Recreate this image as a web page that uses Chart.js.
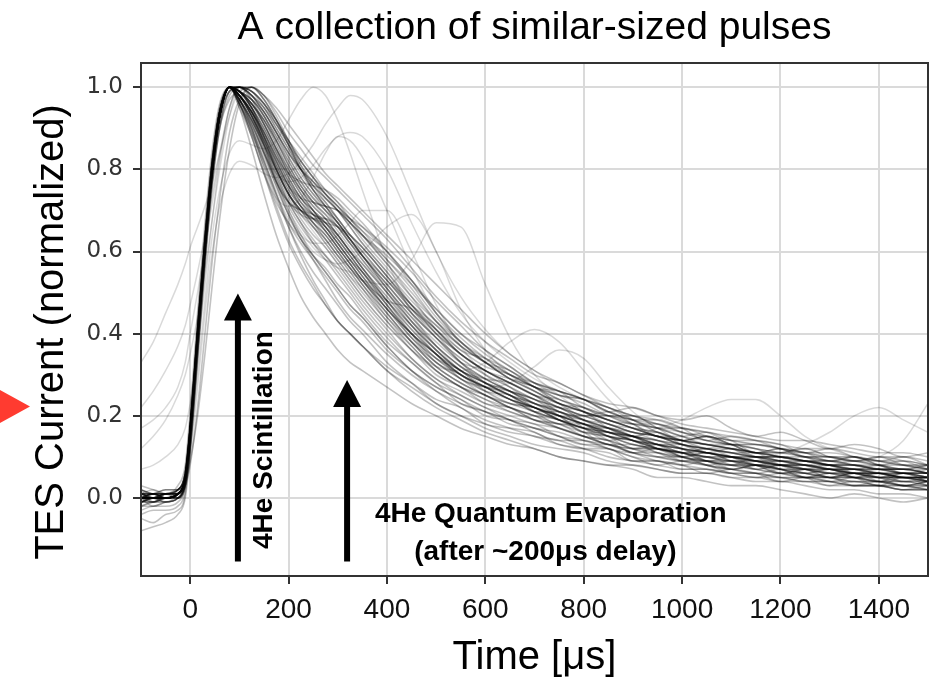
<!DOCTYPE html>
<html>
<head>
<meta charset="utf-8">
<title>A collection of similar-sized pulses</title>
<script src="https://cdn.jsdelivr.net/npm/chart.js@4.4.1/dist/chart.umd.min.js"></script>
<style>
  html, body { margin: 0; padding: 0; background: #ffffff; }
  canvas { display: block; }
</style>
</head>
<body>
<canvas id="pulses" width="933" height="682"></canvas>
<script>
// Sample times of every trace, in microseconds
const TIME_US = [-100, -75, -50, -25, -10, 0, 15, 30, 45, 60, 80, 100,
  125, 150, 175, 200, 225, 250, 275, 300, 325, 350,
  400, 450, 500, 550, 600, 650, 700, 750, 800, 850, 900, 950, 1000,
  1050, 1100, 1150, 1200, 1250, 1300, 1350, 1400, 1450, 1500];

const X_TICKS = [0, 200, 400, 600, 800, 1000, 1200, 1400];
const Y_TICKS = [0.0, 0.2, 0.4, 0.6, 0.8, 1.0];

// Normalized TES current of each pulse, one value per entry of TIME_US
// -- the bulk of the pulses --
const a01 = [0.00,0.01,0.00,0.01,0.05,0.16,0.39,0.61,0.80,0.93,1.00,0.99,
  0.96,0.92,0.86,0.80,0.75,0.71,0.68,0.64,0.60,0.56,
  0.49,0.42,0.36,0.31,0.28,0.26,0.22,0.20,0.18,0.15,0.14,0.13,0.11,0.10,0.09,0.09,0.08,0.07,0.07,0.06,0.06,0.05,0.05];
const a02 = [-0.01,0.00,0.01,0.00,0.04,0.15,0.38,0.60,0.80,0.93,1.00,0.98,
  0.94,0.88,0.82,0.76,0.71,0.67,0.63,0.59,0.55,0.51,
  0.43,0.37,0.31,0.27,0.24,0.21,0.19,0.18,0.15,0.13,0.12,0.12,0.10,0.08,0.07,0.08,0.07,0.05,0.05,0.06,0.04,0.03,0.04];
const a03 = [0.02,0.01,0.01,0.02,0.06,0.17,0.40,0.62,0.81,0.94,1.00,1.00,
  0.98,0.95,0.90,0.85,0.80,0.77,0.74,0.71,0.68,0.64,
  0.57,0.50,0.43,0.37,0.33,0.29,0.26,0.23,0.21,0.19,0.17,0.16,0.14,0.13,0.12,0.10,0.10,0.09,0.08,0.08,0.07,0.07,0.06];
const a04 = [0.00,-0.01,0.00,0.01,0.05,0.17,0.41,0.63,0.82,0.94,1.00,0.97,
  0.91,0.84,0.77,0.70,0.64,0.59,0.55,0.51,0.47,0.44,
  0.37,0.31,0.26,0.22,0.19,0.17,0.15,0.14,0.12,0.11,0.09,0.09,0.07,0.07,0.06,0.05,0.05,0.04,0.04,0.03,0.03,0.03,0.02];
const a05 = [0.01,0.00,-0.01,0.01,0.05,0.16,0.39,0.61,0.80,0.93,1.00,0.99,
  0.95,0.90,0.84,0.78,0.73,0.70,0.67,0.63,0.59,0.55,
  0.47,0.40,0.35,0.30,0.27,0.26,0.24,0.20,0.17,0.17,0.15,0.12,0.10,0.11,0.10,0.08,0.06,0.07,0.08,0.06,0.05,0.06,0.04];
const a06 = [-0.02,-0.01,-0.01,0.00,0.03,0.12,0.33,0.56,0.76,0.90,0.99,1.00,
  0.99,0.96,0.91,0.86,0.81,0.77,0.73,0.70,0.66,0.62,
  0.55,0.47,0.41,0.35,0.31,0.28,0.25,0.22,0.20,0.18,0.16,0.15,0.13,0.12,0.11,0.10,0.10,0.09,0.08,0.07,0.07,0.07,0.06];
const a07 = [0.01,0.02,0.01,0.03,0.08,0.21,0.45,0.67,0.85,0.96,1.00,0.97,
  0.92,0.86,0.80,0.74,0.70,0.67,0.64,0.60,0.56,0.52,
  0.44,0.37,0.31,0.27,0.24,0.22,0.20,0.17,0.15,0.14,0.12,0.10,0.09,0.09,0.08,0.07,0.06,0.05,0.05,0.05,0.04,0.04,0.03];
const a08 = [0.00,0.00,0.01,0.01,0.05,0.16,0.39,0.61,0.80,0.93,1.00,0.98,
  0.93,0.86,0.78,0.72,0.69,0.68,0.68,0.66,0.62,0.58,
  0.50,0.42,0.35,0.30,0.27,0.24,0.21,0.19,0.18,0.16,0.14,0.12,0.11,0.11,0.09,0.08,0.08,0.07,0.06,0.06,0.06,0.05,0.04];
const a09 = [-0.01,0.00,0.00,0.00,0.04,0.15,0.38,0.60,0.79,0.93,1.00,0.99,
  0.95,0.88,0.80,0.74,0.70,0.68,0.67,0.66,0.64,0.61,
  0.54,0.46,0.39,0.33,0.29,0.26,0.23,0.21,0.19,0.16,0.15,0.14,0.12,0.10,0.10,0.09,0.08,0.08,0.07,0.06,0.06,0.05,0.05];
const a10 = [0.03,0.02,0.01,0.02,0.06,0.17,0.40,0.62,0.81,0.94,1.00,0.96,
  0.89,0.81,0.73,0.66,0.60,0.55,0.51,0.47,0.43,0.40,
  0.33,0.28,0.23,0.20,0.18,0.16,0.15,0.13,0.12,0.10,0.09,0.08,0.07,0.07,0.06,0.06,0.05,0.04,0.04,0.04,0.03,0.03,0.03];
const a11 = [0.00,0.01,0.01,0.01,0.05,0.16,0.39,0.61,0.80,0.93,1.00,1.00,
  0.98,0.94,0.89,0.84,0.80,0.76,0.73,0.70,0.67,0.64,
  0.58,0.52,0.46,0.40,0.35,0.31,0.28,0.26,0.24,0.21,0.19,0.18,0.16,0.15,0.14,0.13,0.12,0.11,0.10,0.10,0.09,0.08,0.08];
const a12 = [0.00,-0.02,-0.01,0.00,0.04,0.15,0.39,0.61,0.80,0.93,1.00,0.99,
  0.96,0.91,0.85,0.79,0.74,0.70,0.66,0.62,0.58,0.54,
  0.46,0.40,0.35,0.29,0.27,0.25,0.21,0.21,0.17,0.14,0.15,0.13,0.10,0.09,0.10,0.09,0.07,0.06,0.07,0.05,0.06,0.05,0.04];
const a13 = [0.01,0.00,0.00,0.02,0.06,0.17,0.40,0.62,0.81,0.94,1.00,0.99,
  0.97,0.93,0.88,0.82,0.77,0.73,0.70,0.67,0.63,0.59,
  0.52,0.45,0.39,0.34,0.30,0.27,0.24,0.22,0.19,0.17,0.16,0.14,0.13,0.11,0.10,0.10,0.09,0.08,0.07,0.07,0.06,0.06,0.05];
const a14 = [-0.01,-0.01,0.00,0.01,0.04,0.14,0.36,0.58,0.77,0.90,0.97,0.99,
  1.00,0.97,0.92,0.86,0.80,0.75,0.71,0.67,0.63,0.59,
  0.51,0.44,0.37,0.32,0.28,0.25,0.23,0.21,0.18,0.17,0.15,0.13,0.12,0.11,0.10,0.09,0.08,0.08,0.07,0.06,0.05,0.05,0.05];
const a15 = [0.02,0.01,0.02,0.02,0.06,0.18,0.41,0.63,0.82,0.94,1.00,0.97,
  0.92,0.85,0.78,0.72,0.67,0.63,0.59,0.56,0.52,0.48,
  0.41,0.34,0.29,0.25,0.22,0.19,0.17,0.15,0.13,0.12,0.10,0.09,0.08,0.07,0.06,0.06,0.05,0.05,0.04,0.03,0.03,0.02,0.02];
const a16 = [0.00,0.00,-0.01,0.00,0.04,0.15,0.38,0.60,0.80,0.93,1.00,0.99,
  0.95,0.89,0.82,0.76,0.72,0.69,0.68,0.66,0.63,0.59,
  0.51,0.43,0.36,0.31,0.28,0.25,0.22,0.20,0.18,0.16,0.15,0.13,0.12,0.11,0.10,0.09,0.08,0.08,0.07,0.06,0.06,0.05,0.05];
const a17 = [-0.03,-0.02,-0.02,-0.01,0.03,0.14,0.37,0.60,0.79,0.92,1.00,1.00,
  0.98,0.95,0.91,0.87,0.83,0.79,0.75,0.72,0.68,0.65,
  0.60,0.53,0.45,0.38,0.34,0.30,0.28,0.26,0.22,0.20,0.20,0.17,0.14,0.15,0.13,0.11,0.12,0.10,0.09,0.10,0.08,0.07,0.08];
const a18 = [0.01,0.01,0.00,0.01,0.05,0.16,0.39,0.61,0.80,0.93,1.00,0.98,
  0.94,0.89,0.83,0.77,0.72,0.69,0.66,0.62,0.58,0.55,
  0.48,0.41,0.35,0.30,0.27,0.24,0.22,0.19,0.17,0.16,0.14,0.12,0.11,0.10,0.09,0.08,0.07,0.07,0.06,0.05,0.05,0.05,0.04];
const a19 = [0.00,0.00,0.00,0.01,0.05,0.16,0.40,0.62,0.81,0.93,1.00,1.00,
  0.99,0.96,0.92,0.87,0.82,0.78,0.74,0.71,0.67,0.63,
  0.56,0.49,0.43,0.38,0.33,0.29,0.26,0.23,0.21,0.19,0.17,0.15,0.14,0.13,0.12,0.11,0.10,0.09,0.09,0.08,0.07,0.07,0.06];
const a20 = [-0.02,-0.01,0.00,0.00,0.04,0.15,0.38,0.61,0.80,0.93,1.00,0.98,
  0.93,0.87,0.80,0.74,0.69,0.66,0.62,0.58,0.54,0.50,
  0.43,0.36,0.31,0.27,0.25,0.22,0.20,0.19,0.16,0.13,0.13,0.11,0.09,0.10,0.08,0.07,0.08,0.06,0.05,0.06,0.05,0.04,0.05];

// -- more of the bulk, with noisier tails --
const e01 = [0.00,0.00,0.00,0.01,0.05,0.16,0.39,0.61,0.80,0.93,1.00,0.99,
  0.97,0.93,0.87,0.81,0.76,0.72,0.69,0.66,0.62,0.58,
  0.51,0.44,0.38,0.33,0.31,0.27,0.23,0.22,0.21,0.17,0.15,0.16,0.13,0.11,0.12,0.10,0.08,0.09,0.08,0.06,0.07,0.06,0.05];
const e02 = [0.00,0.01,0.02,0.02,0.07,0.19,0.43,0.65,0.83,0.95,1.00,0.98,
  0.93,0.87,0.81,0.75,0.71,0.69,0.67,0.64,0.60,0.56,
  0.48,0.40,0.33,0.30,0.26,0.25,0.21,0.18,0.18,0.15,0.12,0.13,0.12,0.09,0.08,0.10,0.08,0.06,0.07,0.05,0.04,0.06,0.04];
const e03 = [-0.01,-0.01,0.00,0.00,0.03,0.13,0.35,0.58,0.78,0.91,0.99,1.00,
  0.98,0.94,0.89,0.83,0.78,0.74,0.70,0.66,0.62,0.59,
  0.53,0.46,0.41,0.35,0.31,0.29,0.27,0.23,0.20,0.20,0.18,0.15,0.14,0.15,0.13,0.11,0.11,0.10,0.08,0.09,0.08,0.06,0.07];
const e04 = [0.02,-0.01,0.01,0.01,0.05,0.16,0.39,0.61,0.80,0.93,1.00,0.98,
  0.94,0.87,0.80,0.74,0.70,0.68,0.66,0.63,0.59,0.55,
  0.47,0.39,0.33,0.29,0.25,0.23,0.22,0.19,0.16,0.15,0.14,0.11,0.10,0.11,0.09,0.07,0.08,0.07,0.05,0.06,0.05,0.03,0.04];
const e05 = [0.00,0.00,0.01,0.01,0.05,0.16,0.39,0.61,0.80,0.93,1.00,1.00,
  0.99,0.95,0.90,0.85,0.80,0.76,0.73,0.70,0.67,0.64,
  0.59,0.53,0.46,0.40,0.36,0.32,0.28,0.25,0.24,0.22,0.19,0.17,0.17,0.15,0.13,0.13,0.12,0.10,0.10,0.09,0.10,0.08,0.07];
const e06 = [0.00,0.01,0.00,0.01,0.05,0.16,0.39,0.61,0.80,0.93,1.00,0.98,
  0.93,0.85,0.77,0.72,0.70,0.69,0.67,0.64,0.60,0.56,
  0.48,0.41,0.35,0.31,0.28,0.26,0.24,0.21,0.19,0.18,0.16,0.15,0.13,0.12,0.11,0.11,0.10,0.09,0.08,0.08,0.07,0.07,0.06];
const e07 = [-0.01,0.00,0.00,0.01,0.05,0.16,0.40,0.62,0.81,0.94,1.00,0.97,
  0.92,0.86,0.79,0.73,0.68,0.64,0.61,0.57,0.53,0.49,
  0.42,0.36,0.30,0.27,0.23,0.22,0.19,0.18,0.17,0.14,0.11,0.12,0.11,0.09,0.07,0.08,0.07,0.05,0.06,0.05,0.03,0.05,0.04];
const e08 = [0.01,0.00,0.01,0.02,0.06,0.17,0.40,0.62,0.81,0.94,1.00,0.99,
  0.96,0.91,0.85,0.79,0.75,0.72,0.71,0.70,0.67,0.64,
  0.57,0.49,0.41,0.35,0.31,0.28,0.25,0.24,0.21,0.18,0.17,0.16,0.14,0.12,0.12,0.11,0.09,0.09,0.08,0.07,0.08,0.06,0.06];
const e09 = [0.00,0.00,0.00,0.01,0.05,0.16,0.39,0.61,0.80,0.93,1.00,0.99,
  0.95,0.90,0.84,0.78,0.73,0.70,0.67,0.63,0.59,0.55,
  0.48,0.42,0.36,0.31,0.29,0.28,0.25,0.21,0.20,0.21,0.18,0.15,0.15,0.16,0.14,0.11,0.11,0.12,0.10,0.09,0.10,0.09,0.07];
const e10 = [0.01,0.01,0.00,0.01,0.05,0.17,0.41,0.63,0.82,0.94,1.00,0.97,
  0.90,0.83,0.76,0.69,0.63,0.59,0.56,0.52,0.49,0.45,
  0.38,0.33,0.28,0.23,0.21,0.19,0.16,0.14,0.14,0.12,0.10,0.08,0.09,0.08,0.06,0.05,0.06,0.05,0.03,0.04,0.03,0.02,0.03];
const e11 = [-0.01,0.00,0.00,0.00,0.03,0.12,0.34,0.57,0.77,0.90,0.98,1.00,
  0.99,0.96,0.92,0.87,0.82,0.78,0.74,0.70,0.66,0.62,
  0.55,0.48,0.42,0.37,0.33,0.29,0.27,0.24,0.22,0.19,0.18,0.17,0.15,0.13,0.13,0.12,0.10,0.10,0.09,0.08,0.08,0.07,0.07];
const e12 = [0.00,0.00,0.00,0.01,0.05,0.16,0.39,0.61,0.80,0.93,1.00,0.99,
  0.96,0.92,0.87,0.81,0.76,0.72,0.69,0.65,0.61,0.57,
  0.50,0.43,0.37,0.32,0.29,0.26,0.24,0.22,0.19,0.17,0.15,0.14,0.12,0.11,0.10,0.09,0.09,0.08,0.07,0.07,0.06,0.05,0.05];
const e13 = [0.00,-0.01,-0.01,0.00,0.04,0.16,0.40,0.63,0.82,0.94,1.00,0.96,
  0.89,0.82,0.74,0.67,0.62,0.58,0.54,0.50,0.46,0.43,
  0.36,0.31,0.27,0.24,0.20,0.19,0.18,0.15,0.13,0.13,0.11,0.09,0.08,0.09,0.07,0.06,0.07,0.05,0.04,0.05,0.04,0.03,0.04];
const e14 = [0.01,0.01,0.01,0.01,0.05,0.16,0.39,0.61,0.80,0.93,1.00,0.99,
  0.95,0.89,0.83,0.79,0.77,0.76,0.75,0.73,0.70,0.67,
  0.60,0.52,0.44,0.38,0.33,0.30,0.27,0.24,0.22,0.20,0.18,0.17,0.15,0.14,0.13,0.12,0.11,0.10,0.09,0.09,0.08,0.08,0.07];
const e15 = [-0.02,-0.02,-0.01,0.00,0.04,0.15,0.38,0.60,0.80,0.93,1.00,0.98,
  0.94,0.89,0.83,0.77,0.73,0.69,0.65,0.61,0.57,0.53,
  0.46,0.39,0.34,0.31,0.26,0.23,0.22,0.20,0.16,0.16,0.15,0.12,0.11,0.12,0.10,0.08,0.09,0.07,0.06,0.07,0.05,0.06,0.05];
const e16 = [0.01,0.01,0.00,0.01,0.05,0.16,0.39,0.61,0.80,0.93,1.00,0.99,
  0.97,0.94,0.89,0.84,0.79,0.75,0.72,0.68,0.64,0.61,
  0.54,0.47,0.40,0.35,0.31,0.28,0.25,0.23,0.21,0.19,0.17,0.15,0.14,0.13,0.12,0.11,0.10,0.09,0.09,0.08,0.07,0.07,0.06];
const e17 = [0.00,0.00,0.01,0.01,0.05,0.17,0.40,0.62,0.81,0.94,1.00,0.97,
  0.91,0.84,0.77,0.71,0.66,0.62,0.59,0.55,0.51,0.47,
  0.40,0.34,0.29,0.26,0.23,0.21,0.19,0.17,0.15,0.14,0.12,0.11,0.10,0.09,0.08,0.08,0.07,0.06,0.05,0.05,0.05,0.04,0.04];
const e18 = [0.00,0.00,0.00,0.01,0.05,0.16,0.39,0.61,0.80,0.93,1.00,0.98,
  0.93,0.87,0.80,0.74,0.70,0.66,0.63,0.59,0.56,0.53,
  0.48,0.46,0.40,0.33,0.28,0.25,0.22,0.20,0.19,0.17,0.14,0.13,0.13,0.11,0.10,0.10,0.09,0.08,0.07,0.07,0.06,0.05,0.05];
const e19 = [-0.04,-0.03,-0.03,-0.02,0.02,0.13,0.37,0.60,0.79,0.93,1.00,0.98,
  0.94,0.88,0.81,0.75,0.71,0.68,0.65,0.61,0.57,0.53,
  0.46,0.40,0.34,0.30,0.27,0.24,0.21,0.19,0.17,0.15,0.13,0.12,0.11,0.09,0.08,0.08,0.07,0.06,0.05,0.04,0.04,0.03,0.03];
const e20 = [0.00,0.01,0.01,0.02,0.06,0.17,0.40,0.62,0.81,0.94,1.00,0.99,
  0.96,0.92,0.87,0.82,0.77,0.73,0.70,0.67,0.63,0.60,
  0.53,0.47,0.42,0.36,0.34,0.31,0.27,0.26,0.24,0.21,0.19,0.19,0.17,0.14,0.15,0.14,0.12,0.11,0.12,0.10,0.09,0.10,0.08];

// -- quicker and slower decays that widen the band --
const f01 = [0.00,0.00,0.01,0.01,0.05,0.17,0.41,0.63,0.82,0.94,1.00,0.96,
  0.90,0.82,0.74,0.66,0.59,0.53,0.48,0.43,0.40,0.37,
  0.32,0.28,0.24,0.22,0.18,0.17,0.16,0.13,0.12,0.12,0.09,0.09,0.08,0.06,0.07,0.06,0.04,0.05,0.05,0.03,0.04,0.03,0.02];
const f02 = [-0.01,0.00,0.00,0.01,0.05,0.16,0.40,0.62,0.81,0.94,1.00,0.97,
  0.92,0.84,0.76,0.69,0.63,0.58,0.53,0.48,0.44,0.41,
  0.35,0.30,0.26,0.23,0.21,0.18,0.17,0.15,0.14,0.12,0.11,0.11,0.09,0.08,0.09,0.07,0.06,0.07,0.05,0.05,0.04,0.05,0.03];
const f03 = [0.01,0.01,0.00,0.01,0.05,0.16,0.39,0.61,0.80,0.93,1.00,0.98,
  0.93,0.86,0.79,0.72,0.67,0.62,0.58,0.54,0.50,0.46,
  0.39,0.33,0.28,0.25,0.22,0.20,0.18,0.17,0.15,0.13,0.12,0.12,0.10,0.09,0.09,0.08,0.07,0.07,0.06,0.05,0.06,0.04,0.04];
const f04 = [0.00,0.01,0.01,0.02,0.06,0.18,0.42,0.64,0.83,0.95,1.00,0.96,
  0.90,0.80,0.72,0.67,0.63,0.59,0.55,0.51,0.47,0.44,
  0.37,0.31,0.27,0.24,0.21,0.19,0.17,0.16,0.14,0.13,0.11,0.10,0.10,0.08,0.07,0.08,0.06,0.05,0.06,0.05,0.04,0.04,0.03];
const f05 = [0.00,0.00,0.00,0.01,0.05,0.16,0.39,0.61,0.80,0.93,1.00,1.00,
  0.99,0.96,0.91,0.86,0.82,0.78,0.75,0.72,0.69,0.66,
  0.60,0.53,0.45,0.39,0.34,0.30,0.27,0.25,0.23,0.20,0.18,0.18,0.16,0.14,0.13,0.13,0.12,0.10,0.10,0.09,0.08,0.09,0.08];
const f06 = [-0.01,-0.01,0.00,0.00,0.03,0.13,0.35,0.58,0.78,0.91,0.99,1.00,
  1.00,0.98,0.94,0.89,0.85,0.81,0.78,0.75,0.72,0.69,
  0.63,0.56,0.49,0.43,0.38,0.34,0.30,0.28,0.25,0.23,0.22,0.20,0.18,0.17,0.16,0.15,0.14,0.14,0.13,0.12,0.11,0.11,0.10];
const f07 = [0.01,0.00,0.00,0.01,0.05,0.16,0.39,0.61,0.80,0.93,1.00,0.99,
  0.95,0.88,0.81,0.76,0.73,0.72,0.71,0.70,0.68,0.66,
  0.61,0.55,0.48,0.42,0.36,0.32,0.28,0.26,0.24,0.22,0.20,0.18,0.17,0.16,0.14,0.14,0.13,0.11,0.11,0.10,0.09,0.09,0.08];
const f08 = [0.00,0.00,0.00,0.01,0.05,0.17,0.41,0.63,0.82,0.94,1.00,0.95,
  0.88,0.79,0.70,0.62,0.56,0.51,0.47,0.43,0.40,0.37,
  0.31,0.27,0.23,0.20,0.17,0.15,0.13,0.12,0.11,0.09,0.08,0.07,0.06,0.06,0.05,0.04,0.04,0.03,0.02,0.02,0.01,0.01,0.00];
const f09 = [0.02,0.01,0.01,0.02,0.06,0.17,0.40,0.62,0.81,0.94,1.00,1.00,
  0.98,0.94,0.89,0.84,0.80,0.77,0.74,0.71,0.68,0.65,
  0.58,0.51,0.43,0.37,0.33,0.31,0.27,0.23,0.22,0.20,0.19,0.16,0.14,0.15,0.13,0.11,0.12,0.11,0.09,0.10,0.08,0.07,0.08];
const f10 = [0.00,0.00,0.00,0.01,0.05,0.16,0.39,0.61,0.80,0.93,1.00,0.98,
  0.94,0.86,0.77,0.72,0.70,0.68,0.65,0.61,0.57,0.53,
  0.45,0.38,0.32,0.28,0.25,0.22,0.20,0.18,0.16,0.15,0.13,0.12,0.11,0.10,0.09,0.09,0.08,0.07,0.06,0.06,0.05,0.05,0.04];

// -- pulses with a second, delayed bump --
const b01 = [0.00,0.01,0.00,0.01,0.04,0.12,0.30,0.48,0.64,0.75,0.84,0.87,
  0.86,0.85,0.87,0.92,0.97,1.00,0.98,0.92,0.84,0.75,
  0.58,0.45,0.37,0.31,0.27,0.24,0.22,0.20,0.18,0.16,0.15,0.13,0.12,0.11,0.10,0.09,0.09,0.08,0.07,0.07,0.06,0.06,0.05];
const b02 = [-0.01,0.00,0.01,0.01,0.03,0.10,0.27,0.45,0.60,0.71,0.79,0.82,
  0.81,0.79,0.78,0.79,0.82,0.86,0.91,0.95,0.98,0.97,
  0.88,0.74,0.60,0.49,0.41,0.35,0.31,0.27,0.24,0.22,0.20,0.18,0.16,0.15,0.14,0.13,0.12,0.11,0.10,0.10,0.09,0.08,0.08];
const b03 = [0.01,0.01,0.02,0.02,0.06,0.17,0.40,0.62,0.81,0.94,1.00,0.97,
  0.91,0.84,0.79,0.77,0.78,0.81,0.85,0.88,0.89,0.88,
  0.80,0.67,0.55,0.45,0.38,0.33,0.29,0.26,0.24,0.21,0.19,0.17,0.16,0.14,0.13,0.12,0.11,0.11,0.10,0.09,0.09,0.08,0.07];
const b04 = [0.00,0.00,0.00,0.01,0.05,0.16,0.39,0.61,0.80,0.93,1.00,0.96,
  0.88,0.79,0.73,0.71,0.73,0.78,0.84,0.88,0.87,0.83,
  0.70,0.56,0.45,0.38,0.33,0.29,0.26,0.23,0.21,0.19,0.17,0.15,0.14,0.13,0.12,0.11,0.10,0.09,0.09,0.08,0.07,0.07,0.06];
const b05 = [0.00,0.01,0.00,0.01,0.05,0.16,0.39,0.61,0.80,0.93,1.00,0.97,
  0.91,0.84,0.77,0.70,0.65,0.61,0.58,0.56,0.55,0.53,
  0.52,0.58,0.67,0.66,0.52,0.39,0.30,0.25,0.21,0.19,0.17,0.15,0.14,0.12,0.11,0.10,0.10,0.09,0.08,0.08,0.07,0.06,0.06];
const b06 = [0.00,0.00,0.00,0.01,0.05,0.16,0.39,0.61,0.80,0.93,1.00,0.98,
  0.93,0.87,0.80,0.74,0.69,0.65,0.61,0.57,0.53,0.49,
  0.42,0.36,0.32,0.31,0.33,0.38,0.41,0.38,0.31,0.24,0.19,0.16,0.14,0.13,0.12,0.10,0.09,0.09,0.08,0.07,0.07,0.06,0.06];
const b07 = [0.00,0.00,0.01,0.01,0.05,0.16,0.39,0.61,0.80,0.93,1.00,0.96,
  0.89,0.81,0.74,0.68,0.64,0.62,0.62,0.64,0.67,0.70,
  0.70,0.60,0.47,0.37,0.30,0.26,0.23,0.20,0.18,0.17,0.15,0.13,0.12,0.11,0.10,0.09,0.09,0.08,0.07,0.07,0.06,0.06,0.05];
const b08 = [0.01,0.00,0.00,0.01,0.05,0.16,0.39,0.61,0.80,0.93,1.00,0.97,
  0.90,0.82,0.75,0.69,0.64,0.60,0.58,0.57,0.58,0.60,
  0.66,0.69,0.60,0.46,0.36,0.30,0.26,0.23,0.21,0.19,0.17,0.15,0.14,0.13,0.12,0.11,0.10,0.09,0.08,0.08,0.07,0.06,0.06];
const b09 = [0.00,0.00,0.00,0.01,0.05,0.16,0.39,0.61,0.80,0.93,1.00,0.98,
  0.94,0.88,0.82,0.76,0.71,0.67,0.63,0.59,0.55,0.51,
  0.44,0.38,0.33,0.29,0.27,0.28,0.32,0.36,0.34,0.27,0.21,0.17,0.15,0.13,0.12,0.11,0.10,0.09,0.08,0.08,0.07,0.06,0.06];
const b10 = [-0.01,0.00,0.01,0.00,0.04,0.15,0.38,0.60,0.79,0.93,1.00,0.98,
  0.94,0.89,0.83,0.77,0.72,0.68,0.64,0.60,0.56,0.52,
  0.45,0.38,0.32,0.28,0.25,0.23,0.21,0.19,0.17,0.16,0.15,0.17,0.19,0.22,0.24,0.24,0.20,0.15,0.12,0.10,0.09,0.08,0.07];
const b11 = [0.02,0.01,0.00,0.01,0.05,0.16,0.39,0.61,0.80,0.93,1.00,0.97,
  0.92,0.86,0.80,0.74,0.70,0.66,0.62,0.58,0.54,0.51,
  0.44,0.38,0.33,0.29,0.26,0.23,0.21,0.19,0.17,0.15,0.13,0.12,0.11,0.12,0.13,0.12,0.11,0.13,0.16,0.20,0.22,0.19,0.16];
const b12 = [0.00,0.00,-0.01,0.00,0.04,0.15,0.38,0.60,0.80,0.93,1.00,0.98,
  0.95,0.90,0.84,0.78,0.73,0.69,0.65,0.61,0.57,0.53,
  0.46,0.39,0.34,0.29,0.26,0.24,0.22,0.19,0.17,0.15,0.14,0.12,0.10,0.09,0.08,0.09,0.11,0.12,0.10,0.09,0.10,0.14,0.23];

// -- early, slow-rising and offset-baseline pulses --
const c01 = [0.33,0.38,0.45,0.52,0.57,0.61,0.66,0.71,0.77,0.84,0.93,0.99,
  1.00,0.97,0.92,0.86,0.80,0.75,0.71,0.67,0.63,0.59,
  0.52,0.45,0.39,0.34,0.30,0.27,0.24,0.22,0.20,0.18,0.16,0.15,0.13,0.12,0.11,0.10,0.09,0.09,0.08,0.07,0.07,0.06,0.06];
const c02 = [0.12,0.15,0.19,0.25,0.30,0.35,0.44,0.55,0.68,0.80,0.93,1.00,
  0.98,0.93,0.87,0.81,0.76,0.72,0.68,0.64,0.60,0.56,
  0.49,0.42,0.36,0.31,0.28,0.25,0.22,0.20,0.18,0.16,0.14,0.13,0.12,0.11,0.10,0.09,0.08,0.08,0.07,0.06,0.06,0.05,0.05];
const c03 = [0.22,0.26,0.31,0.37,0.42,0.47,0.55,0.64,0.74,0.84,0.95,1.00,
  0.97,0.92,0.86,0.80,0.75,0.70,0.66,0.62,0.58,0.54,
  0.46,0.40,0.34,0.30,0.27,0.24,0.22,0.20,0.18,0.16,0.15,0.13,0.12,0.11,0.10,0.09,0.08,0.07,0.07,0.06,0.06,0.05,0.05];
const c04 = [0.07,0.08,0.10,0.13,0.17,0.23,0.36,0.52,0.68,0.82,0.95,1.00,
  0.97,0.91,0.85,0.79,0.74,0.70,0.66,0.62,0.58,0.54,
  0.47,0.40,0.35,0.30,0.27,0.24,0.22,0.19,0.17,0.16,0.14,0.13,0.11,0.10,0.10,0.09,0.08,0.07,0.07,0.06,0.05,0.05,0.05];
const c05 = [0.00,0.00,0.01,0.02,0.04,0.09,0.20,0.35,0.52,0.68,0.85,0.96,
  1.00,0.97,0.92,0.86,0.80,0.75,0.71,0.67,0.63,0.59,
  0.52,0.45,0.39,0.33,0.29,0.26,0.23,0.21,0.19,0.17,0.15,0.14,0.13,0.12,0.11,0.10,0.09,0.08,0.08,0.07,0.06,0.06,0.05];
const c06 = [-0.08,-0.07,-0.06,-0.04,0.00,0.11,0.35,0.59,0.79,0.92,1.00,0.98,
  0.94,0.88,0.82,0.76,0.71,0.67,0.64,0.60,0.56,0.52,
  0.45,0.38,0.32,0.28,0.25,0.22,0.19,0.17,0.15,0.13,0.11,0.10,0.09,0.08,0.07,0.06,0.05,0.05,0.04,0.03,0.03,0.02,0.02];
const c07 = [-0.05,-0.06,-0.04,-0.03,0.01,0.13,0.37,0.60,0.79,0.93,1.00,0.99,
  0.96,0.91,0.85,0.80,0.75,0.71,0.68,0.64,0.60,0.57,
  0.50,0.43,0.37,0.32,0.28,0.25,0.23,0.20,0.18,0.15,0.14,0.12,0.11,0.09,0.09,0.08,0.06,0.06,0.05,0.04,0.04,0.03,0.02];
const c08 = [0.17,0.19,0.22,0.27,0.33,0.40,0.50,0.61,0.72,0.83,0.95,1.00,
  0.97,0.91,0.85,0.79,0.74,0.70,0.66,0.62,0.58,0.54,
  0.47,0.40,0.35,0.31,0.27,0.24,0.22,0.19,0.17,0.16,0.14,0.13,0.11,0.10,0.10,0.09,0.08,0.07,0.07,0.06,0.05,0.05,0.05];
const c09 = [-0.01,0.00,0.00,0.01,0.03,0.08,0.22,0.40,0.58,0.73,0.89,0.97,
  1.00,0.98,0.93,0.87,0.81,0.76,0.72,0.68,0.64,0.60,
  0.53,0.46,0.40,0.35,0.31,0.28,0.25,0.22,0.20,0.18,0.16,0.15,0.13,0.12,0.11,0.10,0.10,0.09,0.08,0.07,0.07,0.06,0.06];

// -- the fastest and slowest decays --
const d01 = [0.01,0.00,0.00,0.01,0.05,0.17,0.41,0.63,0.82,0.94,1.00,0.96,
  0.88,0.79,0.71,0.63,0.57,0.52,0.47,0.43,0.40,0.37,
  0.31,0.26,0.22,0.19,0.16,0.14,0.12,0.10,0.09,0.08,0.07,0.05,0.05,0.04,0.03,0.03,0.02,0.01,0.00,0.01,0.00,-0.01,0.00];
const d02 = [0.00,0.00,0.00,0.01,0.05,0.17,0.41,0.63,0.82,0.94,1.00,0.95,
  0.85,0.74,0.64,0.56,0.49,0.44,0.40,0.36,0.33,0.31,
  0.27,0.23,0.20,0.17,0.15,0.13,0.12,0.10,0.09,0.08,0.08,0.07,0.06,0.06,0.05,0.05,0.04,0.04,0.03,0.03,0.03,0.02,0.02];
const d03 = [0.00,0.01,0.01,0.01,0.05,0.16,0.39,0.61,0.80,0.93,0.99,1.00,
  1.00,0.98,0.95,0.91,0.87,0.83,0.79,0.76,0.73,0.70,
  0.64,0.58,0.52,0.46,0.40,0.35,0.31,0.28,0.25,0.22,0.20,0.19,0.17,0.16,0.15,0.14,0.13,0.12,0.12,0.11,0.10,0.10,0.09];
const d04 = [0.00,0.00,0.00,0.01,0.05,0.16,0.39,0.61,0.80,0.93,1.00,0.99,
  0.97,0.93,0.88,0.83,0.78,0.74,0.71,0.68,0.64,0.61,
  0.54,0.47,0.41,0.36,0.32,0.30,0.27,0.25,0.24,0.21,0.22,0.20,0.19,0.20,0.17,0.15,0.16,0.14,0.12,0.13,0.12,0.10,0.11];

const MAIN_PULSES = [a01,a02,a03,a04,a05,a06,a07,a08,a09,a10,a11,a12,a13,a14,a15,a16,a17,a18,a19,a20,
  e01,e02,e03,e04,e05,e06,e07,e08,e09,e10,e11,e12,e13,e14,e15,e16,e17,e18,e19,e20,
  f01,f02,f03,f04,f05,f06,f07,f08,f09,f10,
  c05,c06,c07,c09,d01,d02,d03,d04];
const FAINT_PULSES = [b01,b02,b03,b04,b05,b06,b07,b08,b09,b10,b11,b12,c01,c02,c03,c04,c08];

// Annotation anchors in data units (time in µs, normalized current)
const ARROW_TIMES = [97, 319];
const ARROW_TIPS = [0.498, 0.287];
const ARROW_BASE = -0.155;

function toPoints(values) {
  return values.map((v, i) => ({ x: TIME_US[i], y: v }));
}

function pulseDataset(values, color, width) {
  return {
    data: toPoints(values),
    borderColor: color,
    borderWidth: width,
    pointRadius: 0,
    pointHoverRadius: 0,
    fill: false,
    cubicInterpolationMode: 'monotone'
  };
}

const datasets = [
  ...FAINT_PULSES.map(v => pulseDataset(v, 'rgba(0,0,0,0.15)', 1.5)),
  ...MAIN_PULSES.map(v => pulseDataset(v, 'rgba(0,0,0,0.24)', 1.6))
];

// Frame, arrows, their labels and the side marker
const notes = {
  id: 'pulseNotes',
  afterDatasetsDraw(chart) {
    const { ctx, chartArea: a, scales: { x, y } } = chart;
    ctx.save();

    ctx.strokeStyle = '#333333';
    ctx.lineWidth = 2;
    ctx.strokeRect(a.left, a.top, a.right - a.left, a.bottom - a.top);

    ctx.fillStyle = '#000000';
    ctx.strokeStyle = '#000000';
    ARROW_TIMES.forEach((t, i) => {
      const px = x.getPixelForValue(t);
      const tip = y.getPixelForValue(ARROW_TIPS[i]);
      const base = y.getPixelForValue(ARROW_BASE);
      const headH = 27, headW = 28;
      ctx.lineWidth = 6;
      ctx.beginPath();
      ctx.moveTo(px, base);
      ctx.lineTo(px, tip + headH - 2);
      ctx.stroke();
      ctx.beginPath();
      ctx.moveTo(px, tip);
      ctx.lineTo(px + headW / 2, tip + headH);
      ctx.lineTo(px - headW / 2, tip + headH);
      ctx.closePath();
      ctx.fill();
    });

    ctx.font = 'bold 28px "Liberation Sans", Arial, sans-serif';
    ctx.textAlign = 'center';
    ctx.textBaseline = 'middle';
    ctx.save();
    ctx.translate(x.getPixelForValue(150), y.getPixelForValue(0.141));
    ctx.rotate(-Math.PI / 2);
    ctx.fillText('4He Scintillation', 0, 0);
    ctx.restore();

    ctx.fillText('4He Quantum Evaporation', x.getPixelForValue(733), y.getPixelForValue(-0.04));
    ctx.fillText('(after ~200\u03bcs delay)', x.getPixelForValue(722), y.getPixelForValue(-0.132));

    // y-axis title
    ctx.font = '40px "Liberation Sans", Arial, sans-serif';
    ctx.save();
    ctx.translate(52, 332);
    ctx.rotate(-Math.PI / 2);
    ctx.fillText('TES Current (normalized)', 0, 0);
    ctx.restore();

    // red pointer at the left edge
    ctx.fillStyle = '#ff3b30';
    ctx.beginPath();
    ctx.moveTo(-2, 389);
    ctx.lineTo(30, 406.5);
    ctx.lineTo(-2, 424);
    ctx.closePath();
    ctx.fill();

    ctx.restore();
  }
};

Chart.defaults.font.family = '"Liberation Sans", Arial, sans-serif';
Chart.defaults.color = '#111111';

new Chart(document.getElementById('pulses'), {
  type: 'line',
  data: { datasets },
  options: {
    responsive: false,
    animation: false,
    events: [],
    layout: { padding: { left: 0, right: 5, top: 0, bottom: 0 } },
    plugins: {
      legend: { display: false },
      tooltip: { enabled: false },
      title: {
        display: true,
        fullSize: false,
        text: 'A collection of similar-sized pulses',
        color: '#000000',
        font: { size: 39, weight: 'normal' },
        padding: { top: 5, bottom: 11.2 }
      }
    },
    scales: {
      x: {
        type: 'linear',
        min: -100,
        max: 1500,
        afterBuildTicks: s => { s.ticks = X_TICKS.map(v => ({ value: v })); },
        afterFit: s => { s.height = 106; },
        grid: { color: '#dadada', lineWidth: 2, tickColor: '#333333', tickLength: 8, tickWidth: 2 },
        border: { display: false },
        ticks: {
          font: { size: 28 },
          color: '#111111',
          padding: 9,
          maxRotation: 0,
          autoSkip: false,
          callback: v => String(v)
        },
        title: { display: true, text: 'Time [\u03bcs]', font: { size: 40 }, color: '#000000', padding: 0 }
      },
      y: {
        type: 'linear',
        min: -0.19,
        max: 1.059,
        afterBuildTicks: s => { s.ticks = Y_TICKS.map(v => ({ value: v })); },
        afterFit: s => { s.width = 141; },
        grid: { color: '#dadada', lineWidth: 2, tickColor: '#333333', tickLength: 8, tickWidth: 2 },
        border: { display: false },
        ticks: {
          font: { family: '"DejaVu Sans", sans-serif', size: 23 },
          color: '#333333',
          padding: 10,
          autoSkip: false,
          callback: v => Number(v).toFixed(1)
        }
      }
    }
  },
  plugins: [notes]
});
</script>
</body>
</html>
